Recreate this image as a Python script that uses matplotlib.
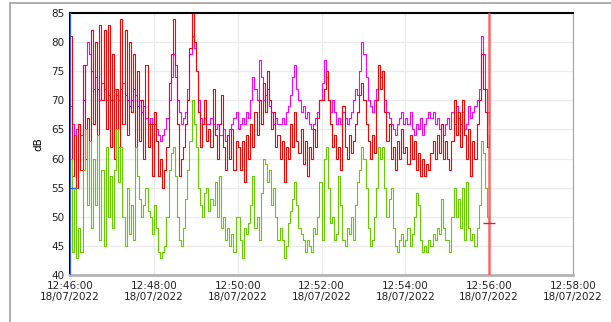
import numpy as np
import matplotlib
matplotlib.use("Agg")
import matplotlib.pyplot as plt
import matplotlib.dates as mdates
from matplotlib.patches import Rectangle

# sound level readings, one value every 3 seconds from 12:46:00
start_time = "2022-07-18T12:46:00"
step_seconds = 3

red_db = [
    81, 57, 64, 55, 66, 58, 76, 60, 67, 63, 82, 66, 80, 64, 83, 70, 82, 65, 83, 62,
    78, 60, 72, 62, 84, 66, 82, 64, 80, 68, 78, 62, 75, 63, 70, 60, 76, 62, 66, 57,
    68, 63, 57, 60, 55, 58, 62, 73, 78, 84, 76, 66, 57, 60, 62, 66, 70, 79, 85, 80,
    75, 68, 62, 66, 70, 63, 65, 62, 72, 64, 60, 66, 71, 62, 58, 64, 60, 65, 58, 63,
    62, 58, 63, 56, 64, 60, 66, 62, 68, 64, 70, 66, 73, 68, 75, 70, 65, 68, 62, 64,
    60, 63, 56, 62, 60, 66, 62, 68, 63, 61, 65, 59, 63, 57, 62, 60, 65, 62, 67, 70,
    70, 72, 75, 70, 66, 62, 64, 60, 62, 58, 69, 62, 60, 64, 61, 63, 66, 68, 71, 73,
    70, 66, 63, 60, 64, 61, 70, 76, 72, 75, 68, 63, 66, 60, 62, 58, 63, 60, 65, 61,
    62, 59, 64, 60, 63, 58, 61, 57, 60, 57, 59, 58, 61, 63, 60, 64, 61, 66, 60, 63,
    60, 58, 63, 70, 64, 68, 62, 70, 64, 60, 65, 57, 63, 60, 66, 70, 78, 72, 68, 62, 64,
]

magenta_db = [
    69, 66, 64, 65, 66, 64, 70, 76, 80, 78, 75, 72, 74, 72, 70, 73, 72, 70, 71, 70,
    70, 72, 71, 70, 72, 73, 71, 70, 69, 70, 72, 71, 69, 70, 68, 69, 67, 66, 67, 66,
    66, 65, 64, 63, 64, 65, 67, 70, 74, 78, 74, 70, 68, 66, 67, 68, 72, 78, 81, 79,
    75, 70, 67, 66, 67, 66, 66, 67, 66, 65, 66, 64, 64, 65, 63, 64, 65, 66, 67, 68,
    65, 66, 67, 66, 68, 67, 70, 74, 72, 70, 77, 74, 70, 71, 72, 69, 68, 66, 67, 66,
    66, 67, 66, 68, 69, 71, 74, 76, 72, 70, 68, 69, 67, 68, 66, 65, 66, 67, 68, 70,
    73, 77, 74, 70, 68, 70, 68, 66, 67, 66, 68, 67, 66, 67, 68, 70, 72, 71, 75, 80,
    78, 74, 70, 69, 68, 70, 72, 76, 74, 75, 70, 68, 67, 66, 65, 64, 66, 67, 68, 66,
    67, 66, 68, 65, 64, 66, 65, 67, 64, 66, 67, 68, 67, 68, 66, 67, 65, 66, 64, 66,
    67, 65, 68, 66, 69, 67, 66, 68, 65, 66, 69, 67, 68, 69, 70, 72, 81, 78, 72, 68, 66,
]

green_db = [
    60, 44, 55, 43, 48, 44, 58, 65, 52, 63, 48, 60, 52, 64, 46, 58, 45, 62, 50, 57,
    48, 58, 65, 56, 62, 50, 45, 55, 47, 52, 46, 62, 57, 53, 50, 52, 55, 51, 50, 47,
    52, 48, 44, 43, 44, 45, 50, 58, 61, 62, 57, 50, 46, 45, 48, 53, 58, 63, 70, 66,
    62, 55, 52, 50, 54, 55, 51, 53, 52, 56, 50, 57, 48, 50, 46, 48, 45, 47, 44, 50,
    50, 46, 43, 48, 47, 49, 52, 57, 48, 50, 46, 54, 60, 59, 56, 58, 52, 55, 50, 46,
    48, 46, 43, 45, 49, 51, 53, 56, 52, 48, 47, 46, 44, 46, 45, 44, 48, 47, 50, 56,
    46, 60, 62, 55, 49, 50, 46, 47, 57, 52, 46, 45, 48, 47, 50, 46, 52, 56, 58, 62,
    60, 55, 48, 45, 46, 50, 55, 62, 60, 62, 55, 50, 53, 55, 48, 45, 44, 46, 47, 45,
    46, 48, 45, 47, 50, 54, 52, 46, 44, 45, 44, 46, 45, 47, 46, 48, 47, 53, 48, 46,
    46, 44, 50, 55, 50, 53, 48, 55, 46, 56, 48, 46, 47, 45, 48, 52, 63, 61, 55, 50, 49,
]

# cursor positions
cursor_left = "2022-07-18T12:46:00"
cursor_left_db = 55
cursor_right = "2022-07-18T12:56:00"
cursor_right_db = 49

x_min = "2022-07-18T12:46:00"
x_max = "2022-07-18T12:58:00"


def to_dt(s):
    return np.datetime64(s).astype("datetime64[ms]").astype(object)


t0 = np.datetime64(start_time)
times = t0 + np.arange(len(red_db)) * np.timedelta64(step_seconds, "s")
times = times.astype("datetime64[ms]").astype(object)

fig = plt.figure(figsize=(6.11, 3.22), dpi=100)
ax = fig.add_axes([0.1146, 0.146, 0.8232, 0.8136])

# outer panel border
fig.patches.append(Rectangle((10 / 611, -0.1), 1.0, 1.09, transform=fig.transFigure,
                             fill=False, edgecolor="#a0a0a0", linewidth=1.2))

ax.plot(times, magenta_db, color="#ff00ff", linewidth=0.8, drawstyle="steps-post")
ax.plot(times, red_db, color="#ff0000", linewidth=0.8, drawstyle="steps-post")
ax.plot(times, green_db, color="#66cc00", linewidth=0.8, drawstyle="steps-post")

# cursors
cl = to_dt(cursor_left)
cr = to_dt(cursor_right)
ax.axvline(cl, color="#3060e0", linewidth=1.5, zorder=5)
ax.plot([cl], [cursor_left_db], marker="_", color="#3060e0", markersize=8, zorder=6)
ax.axvline(cr, color="#ff5050", linewidth=1.8, alpha=0.85, zorder=5)
ax.plot([cr], [cursor_right_db], marker="_", color="#e02020", markersize=8, zorder=6)

ax.set_xlim(to_dt(x_min), to_dt(x_max))
ax.set_ylim(40, 85)
ax.set_yticks(range(40, 86, 5))
ax.xaxis.set_major_locator(mdates.MinuteLocator(byminute=range(0, 60, 2)))
ax.xaxis.set_major_formatter(mdates.DateFormatter("%H:%M:%S\n%d/%m/%Y"))

ax.grid(True, color="#ebebeb", linewidth=1)
ax.set_axisbelow(True)
ax.tick_params(length=0, labelsize=7.5, colors="#222222", pad=4)
ax.set_ylabel("dB", fontsize=7.5, labelpad=6)

ax.spines["left"].set_color("black")
ax.spines["top"].set_color("black")
ax.spines["left"].set_linewidth(1.5)
ax.spines["top"].set_linewidth(1.5)
ax.spines["right"].set_color("#a0a0a0")
ax.spines["bottom"].set_color("#b4b4b4")
ax.spines["bottom"].set_linewidth(2)

fig.savefig("out.png", dpi=100)
